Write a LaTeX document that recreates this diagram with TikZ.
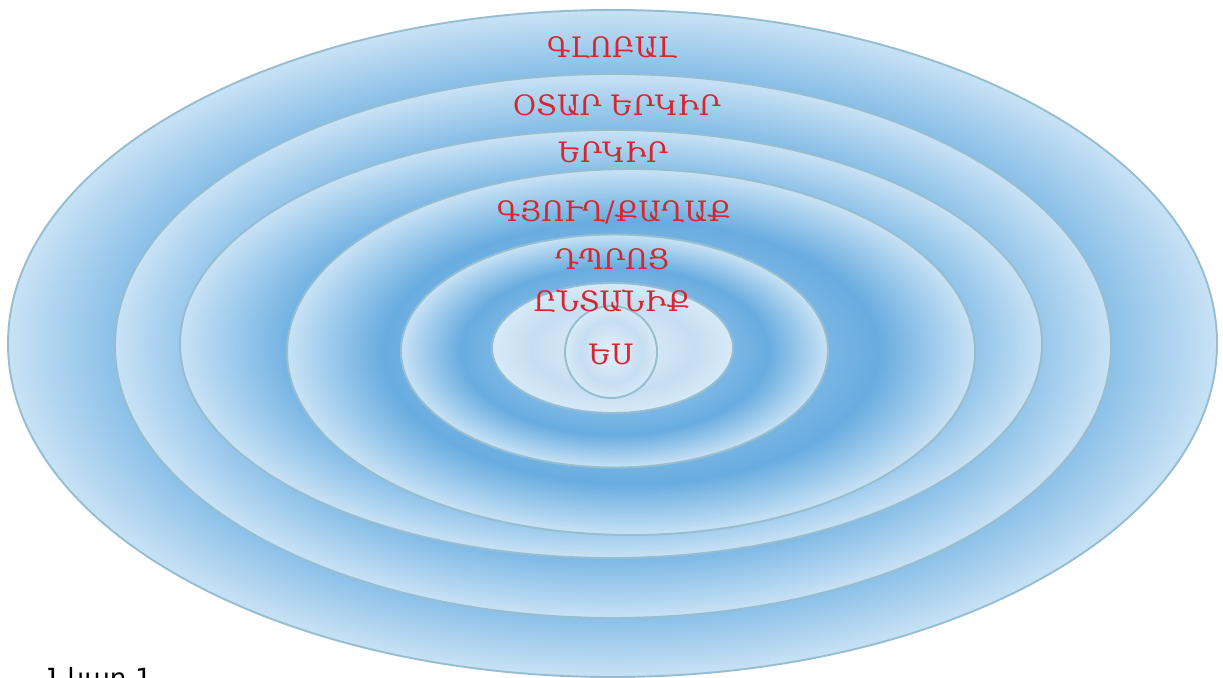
\documentclass[tikz,border=0pt]{standalone}
\usepackage{fontspec}
\usepackage{xcolor}
\usepackage{tikz}
\setmainfont{DejaVu Serif}
\newfontfamily\capfont{DejaVu Sans}

\definecolor{ringlight}{RGB}{200,225,245}
\definecolor{ringmid}{RGB}{140,192,232}
\definecolor{ringdark}{RGB}{104,172,224}
\definecolor{ringedge}{RGB}{200,226,245}
\definecolor{palelight}{RGB}{228,240,250}
\definecolor{palemid}{RGB}{198,222,242}
\definecolor{paleedge}{RGB}{214,234,248}
\definecolor{ringline}{RGB}{150,190,208}
\definecolor{labelred}{RGB}{214,38,48}

\pgfdeclareradialshading{ringshade}{\pgfpointorigin}{%
  color(0bp)=(ringlight); color(10bp)=(ringmid); color(18bp)=(ringdark);
  color(25bp)=(ringedge); color(50bp)=(ringedge)}
\pgfdeclareradialshading{paleshade}{\pgfpointorigin}{%
  color(0bp)=(palelight); color(17bp)=(palemid);
  color(25bp)=(paleedge); color(50bp)=(paleedge)}

\begin{document}
\begin{tikzpicture}[
    x=0.02cm, y=0.02cm,
    ring/.style={
        shade,
        shading=ringshade,
        draw=ringline,
        line width=1.1pt
    },
    palering/.style={
        ring,
        shading=paleshade
    },
    levellabel/.style={
        anchor=base,
        inner sep=0pt,
        text=labelred,
        font=\fontsize{16}{19}\selectfont
    }
]
\useasboundingbox (0,0) rectangle (1223,677);

% nested rings, outside in
\path[ring] (612.5,333.5) ellipse [x radius=604.5, y radius=333.5];
\path[ring] (613,331) ellipse [x radius=498, y radius=272];
\path[ring] (611,333) ellipse [x radius=431, y radius=214];
\path[ring] (631,325) ellipse [x radius=344, y radius=183];
\path[ring] (614.5,326) ellipse [x radius=213.5, y radius=116.5];
\path[palering] (612.5,329) ellipse [x radius=120.5, y radius=65];
\path[palering] (611,325) circle [radius=46];

% labels
\node[levellabel] (global) at (612,619) {ԳԼՈԲԱԼ};
\node[levellabel] (abroad) at (617,561) {ՕՏԱՐ ԵՐԿԻՐ};
\node[levellabel] (country) at (613,514) {ԵՐԿԻՐ};
\node[levellabel] (town) at (614,456) {ԳՅՈՒՂ/ՔԱՂԱՔ};
\node[levellabel] (school) at (612,408) {ԴՊՐՈՑ};
\node[levellabel] (family) at (612,366) {ԸՆՏԱՆԻՔ};
\node[levellabel] (self) at (611,313) {ԵՍ};

% caption, cut by the page edge
\node[anchor=north west, inner sep=0pt, font=\capfont\fontsize{15}{18}\selectfont] (caption) at (48,10) {Նկար 1};

\end{tikzpicture}
\end{document}
